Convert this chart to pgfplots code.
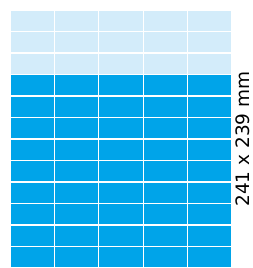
\documentclass[border=0pt]{standalone}
\usepackage{pgfplots}
\pgfplotsset{compat=1.18}
\usepackage{fontspec}
\setmainfont{DejaVu Sans}
\definecolor{dark}{RGB}{0,164,233}
\definecolor{light}{RGB}{211,236,250}
\begin{document}
\begin{tikzpicture}
\begin{axis}[
  scale only axis, width=222pt, height=258pt,
  xmin=0, xmax=5, ymin=0, ymax=12,
  hide axis, clip=false,
  ybar stacked, bar width=1,
  every axis plot/.append style={draw=white, line width=1.3pt},
]
\addplot[fill=dark] coordinates {(0.5,1) (1.5,1) (2.5,1) (3.5,1) (4.5,1)};
\addplot[fill=dark] coordinates {(0.5,1) (1.5,1) (2.5,1) (3.5,1) (4.5,1)};
\addplot[fill=dark] coordinates {(0.5,1) (1.5,1) (2.5,1) (3.5,1) (4.5,1)};
\addplot[fill=dark] coordinates {(0.5,1) (1.5,1) (2.5,1) (3.5,1) (4.5,1)};
\addplot[fill=dark] coordinates {(0.5,1) (1.5,1) (2.5,1) (3.5,1) (4.5,1)};
\addplot[fill=dark] coordinates {(0.5,1) (1.5,1) (2.5,1) (3.5,1) (4.5,1)};
\addplot[fill=dark] coordinates {(0.5,1) (1.5,1) (2.5,1) (3.5,1) (4.5,1)};
\addplot[fill=dark] coordinates {(0.5,1) (1.5,1) (2.5,1) (3.5,1) (4.5,1)};
\addplot[fill=dark] coordinates {(0.5,1) (1.5,1) (2.5,1) (3.5,1) (4.5,1)};
\addplot[fill=light] coordinates {(0.5,1) (1.5,1) (2.5,1) (3.5,1) (4.5,1)};
\addplot[fill=light] coordinates {(0.5,1) (1.5,1) (2.5,1) (3.5,1) (4.5,1)};
\addplot[fill=light] coordinates {(0.5,1) (1.5,1) (2.5,1) (3.5,1) (4.5,1)};
\coordinate (SW) at (rel axis cs:0,0);
\node[rotate=90, font=\fontsize{18.5pt}{20pt}\selectfont, inner sep=0pt] at ([xshift=11pt]rel axis cs:1,0.5) {241 x 239 mm};
\end{axis}
\pgfresetboundingbox
\path (SW) ++(-10pt,0pt) rectangle ++(253pt,268pt);
\end{tikzpicture}
\end{document}
